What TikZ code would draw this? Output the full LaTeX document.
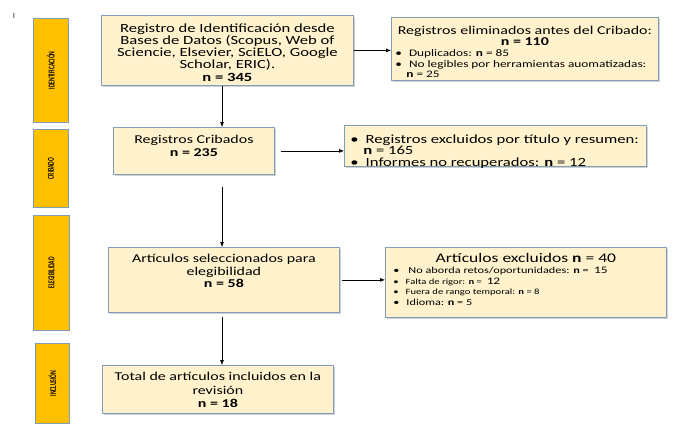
\documentclass[tikz,border=0pt]{standalone}
\usepackage{fontspec}
\setmainfont{Carlito}[FakeStretch=1.33]
\newfontfamily\fasefont{Carlito}[FakeStretch=0.62]
\usetikzlibrary{arrows.meta,shadows}
\definecolor{crema}{HTML}{FFF2CC}
\definecolor{borde}{HTML}{7F9DB9}
\definecolor{oro}{HTML}{FFC000}
\setlength{\lineskiplimit}{-20pt}
\tikzset{
	caja/.style={draw=borde, line width=0.8pt, fill=crema, inner sep=0pt,
		drop shadow={shadow xshift=2pt, shadow yshift=-2pt, fill=black!30, opacity=0.6}},
	fase/.style={draw=borde, line width=0.8pt, fill=oro, inner sep=0pt,
		font=\fasefont\fontsize{9}{9}\selectfont\bfseries},
	flecha/.style={-{Latex[length=5pt,width=4pt]}, line width=0.6pt}
}
% parbox for a box: height, width, contents (top aligned)
\newcommand\cajatexto[3]{\parbox[c][#1][t]{#2}{#3}}
\newcommand\vi{\textbullet\hspace{7pt}}
\newcommand\num[1]{{\fontsize{10}{10}\selectfont #1}}

\begin{document}
\begin{tikzpicture}[x=1pt,y=-1pt]
			%%%%% FASES %%%%%
			\useasboundingbox (0,0) rectangle (675,424);
			
			\node[text=black!70, font=\fontsize{8}{8}\selectfont] (cursor) at (14,16) {I};
			
			\node[fase, anchor=north west, minimum width=35pt, minimum height=104pt] (fident) at (33,18) {\rotatebox{90}{IDENTIFICACIÓN}};
			\node[fase, anchor=north west, minimum width=35pt, minimum height=78pt] (fcrib) at (33,129) {\rotatebox{90}{CRIBADO}};
			\node[fase, anchor=north west, minimum width=36pt, minimum height=115pt] (feleg) at (33,215) {\rotatebox{90}{ELEGIBILIDAD}};
			\node[fase, anchor=north west, minimum width=34pt, minimum height=80pt] (fincl) at (35,343) {\rotatebox{90}{INCLUSIÓN}};
			
			%%%%% CAJAS %%%%%
			
			\node[caja, anchor=north west] (ident) at (101,15) {\cajatexto{70pt}{252pt}{\centering\fontsize{12.5}{12.3}\selectfont
				\vspace{8pt}Registro de Identificación desde\\ Bases de Datos (Scopus, Web of\\ Sciencie, Elsevier, SciELO, Google\\ Scholar, ERIC).\\ \textbf{n = 345}}};
			
			\node[caja, anchor=north west] (elim) at (391,17) {\cajatexto{63pt}{267pt}{\fontsize{12}{11}\selectfont
				\vspace{9pt}\centerline{Registros eliminados antes del Cribado:}\centerline{\textbf{n = 110}}
				\fontsize{10}{10.7}\selectfont\hspace{4pt}\vi Duplicados: \textbf{n} = 85\\
				\hspace*{4pt}\vi No legibles por herramientas auomatizadas:\\
				\hspace*{15pt}\textbf{n} = 25}};
			
			\node[caja, anchor=north west] (crib) at (113,127) {\cajatexto{47pt}{161pt}{\centering\fontsize{12}{13}\selectfont
				\vspace{8pt}Registros Cribados\\ \textbf{n = 235}}};
			
			\node[caja, anchor=north west] (excl) at (344,125) {\cajatexto{41pt}{302pt}{\fontsize{12.5}{11.6}\selectfont
				\vspace{9pt}\hspace*{6pt}\vi Registros excluidos por título y resumen:\\
				\hspace*{19pt}\textbf{n} = 165\\
				\hspace*{6pt}\vi Informes no recuperados: \textbf{n} = 12}};
			
			\node[caja, anchor=north west] (eleg) at (108,247) {\cajatexto{65pt}{231pt}{\centering\fontsize{12}{12.5}\selectfont
				\vspace{7pt}Artículos seleccionados para\\ elegibilidad\\ \textbf{n = 58}}};
			
			\node[caja, anchor=north west] (excl2) at (385,247) {\cajatexto{70pt}{281pt}{\fontsize{13.2}{11}\selectfont
				\vspace{6pt}\centerline{Artículos excluidos \textbf{n} = 40}
				\fontsize{9.2}{10.8}\selectfont
				\hspace*{8pt}\vi\hspace{2pt}No aborda retos/oportunidades: \textbf{n} = \ \num{15}\\
				\hspace*{8pt}{\fontsize{8}{10.8}\selectfont\vi Falta de rigor: \textbf{n} = \ \num{12}}\\
				\hspace*{8pt}{\fontsize{8}{10.8}\selectfont\vi Fuera de rango temporal: \textbf{n} = 8}\\
				\hspace*{8pt}\vi Idioma: \textbf{n} = 5}};
			
			\node[caja, anchor=north west] (incl) at (102,365) {\cajatexto{48pt}{231pt}{\centering\fontsize{12}{13.5}\selectfont
				\vspace{7pt}Total de artículos incluidos en la\\ revisión\\ \textbf{n = 18}}};
			
			%%%%% FLECHAS %%%%%
			\coordinate (eje) at (222,0);
			\draw[flecha] (ident.south -| eje) -- (crib.north -| eje);
			\draw[flecha, shorten <=12pt] (crib.south -| eje) -- (eleg.north -| eje);
			\draw[flecha, shorten <=4pt] (eleg.south -| eje) -- (incl.north -| eje);
			
			\draw[flecha] (ident.east) -- (ident.east -| elim.west);
			\draw[flecha, shorten <=6pt] (crib.east) -- (crib.east -| excl.west);
			\draw[flecha, shorten <=2pt] (eleg.east) -- (eleg.east -| excl2.west);
			
		\end{tikzpicture}
\end{document}
